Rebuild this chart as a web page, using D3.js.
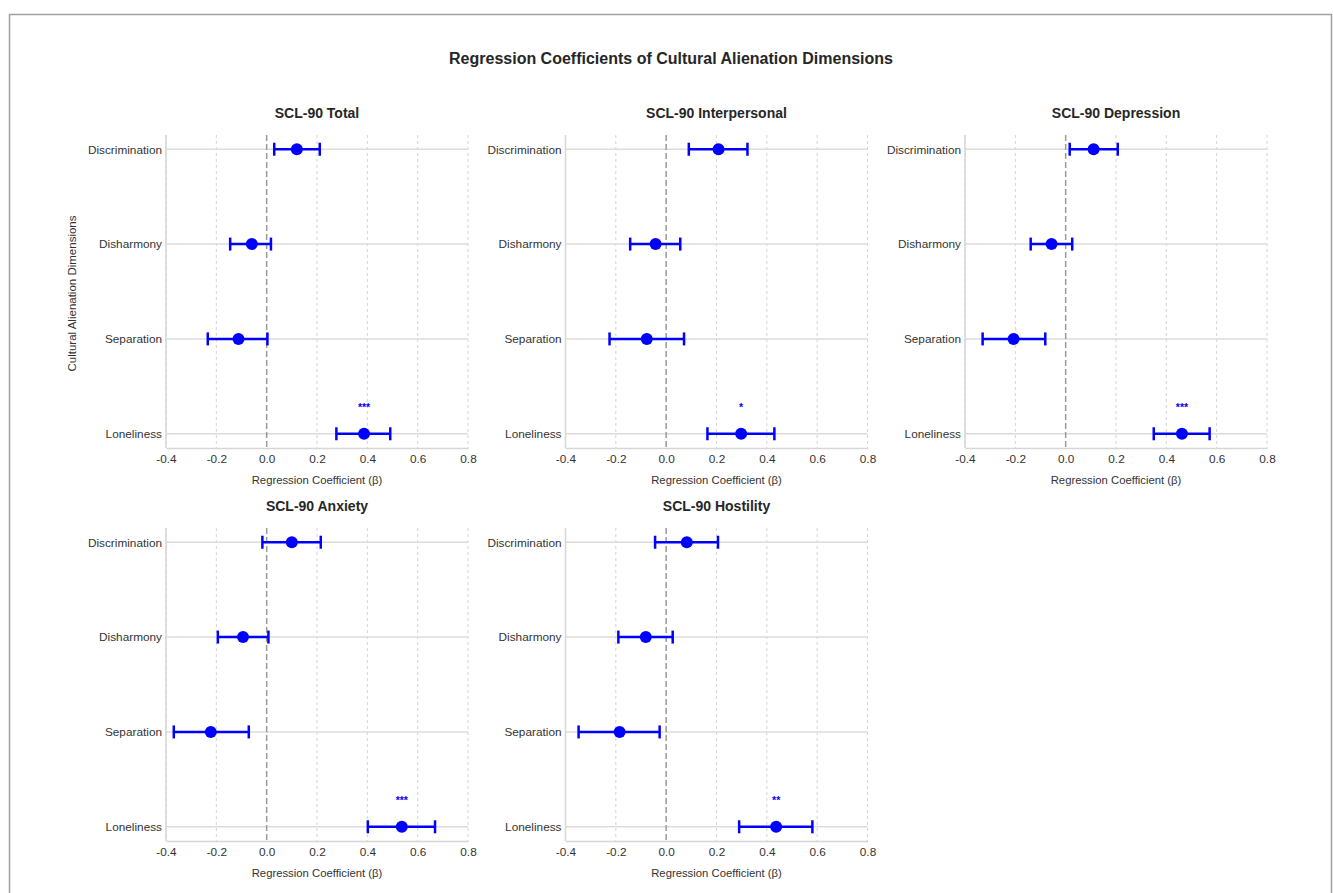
<!DOCTYPE html>
<html><head><meta charset="utf-8">
<script src="https://cdn.jsdelivr.net/npm/d3@7"></script>
<style>body{margin:0;background:#fff;} svg{display:block;font-family:"Liberation Sans",Arial,sans-serif;}</style>
</head><body>
<svg id="chart" width="1333" height="893"></svg>
<script>
const chartTitle = "Regression Coefficients of Cultural Alienation Dimensions";
const categories = ["Discrimination", "Disharmony", "Separation", "Loneliness"];
const panelTitles = ["SCL-90 Total", "SCL-90 Interpersonal", "SCL-90 Depression", "SCL-90 Anxiety", "SCL-90 Hostility"];
const xTicks = [-0.4, -0.2, 0.0, 0.2, 0.4, 0.6, 0.8];
// per panel: coefficient, CI lower, CI upper (order = categories)
const totalBeta  = [0.12, -0.059, -0.112, 0.387];
const totalLow   = [0.030, -0.145, -0.234, 0.277];
const totalHigh  = [0.211, 0.017, 0.003, 0.491];
const interBeta  = [0.208, -0.042, -0.077, 0.298];
const interLow   = [0.090, -0.143, -0.225, 0.164];
const interHigh  = [0.323, 0.056, 0.071, 0.430];
const deprBeta   = [0.111, -0.056, -0.207, 0.462];
const deprLow    = [0.016, -0.139, -0.330, 0.350];
const deprHigh   = [0.207, 0.026, -0.081, 0.572];
const anxBeta    = [0.100, -0.094, -0.222, 0.537];
const anxLow     = [-0.017, -0.194, -0.369, 0.402];
const anxHigh    = [0.215, 0.007, -0.071, 0.669];
const hostBeta   = [0.082, -0.081, -0.185, 0.437];
const hostLow    = [-0.044, -0.190, -0.348, 0.290];
const hostHigh   = [0.206, 0.026, -0.026, 0.581];
const totalSig = ["", "", "", "***"];
const interSig = ["", "", "", "*"];
const deprSig  = ["", "", "", "***"];
const anxSig   = ["", "", "", "***"];
const hostSig  = ["", "", "", "**"];

const panels = [
  {title: panelTitles[0], beta: totalBeta, low: totalLow, high: totalHigh, sig: totalSig},
  {title: panelTitles[1], beta: interBeta, low: interLow, high: interHigh, sig: interSig},
  {title: panelTitles[2], beta: deprBeta,  low: deprLow,  high: deprHigh,  sig: deprSig},
  {title: panelTitles[3], beta: anxBeta,   low: anxLow,   high: anxHigh,   sig: anxSig},
  {title: panelTitles[4], beta: hostBeta,  low: hostLow,  high: hostHigh,  sig: hostSig}
];

const svg = d3.select("#chart");
// frame
svg.append("path").attr("d","M9.5,893 L9.5,14.5 L1331.5,14.5 L1331.5,893")
  .attr("fill","none").attr("stroke","#a0a0a0").attr("stroke-width",1.5);

svg.append("text").attr("x",671).attr("y",64).attr("text-anchor","middle")
  .attr("font-size",16).attr("font-weight","bold").attr("fill","#262626").text(chartTitle);

const colX = [166, 565.5, 965];
const rowY = [135, 528];
const pw = 302, ph = 313;
const blue = "#0000ff";
const fmt = d => d3.format(".1f")(d).replace("\u2212", "-");

panels.forEach((p, i) => {
  const col = i % 3, row = Math.floor(i / 3);
  const g = svg.append("g").attr("transform", `translate(${colX[col]},${rowY[row]})`);
  const x = d3.scaleLinear().domain([-0.4, 0.8]).range([0, pw]);
  const y = d3.scaleLinear().domain([-0.15, 3.15]).range([ph, 0]);
  const yPos = (k) => y(categories.length - 1 - k);

  // vertical dashed grid
  g.selectAll(".vg").data(xTicks.filter(t => t !== 0)).enter().append("line")
    .attr("x1", d => x(d)).attr("x2", d => x(d)).attr("y1", 0).attr("y2", ph)
    .attr("stroke", "#d4d4d4").attr("stroke-width", 1).attr("stroke-dasharray", "3,3");
  // horizontal solid grid
  g.selectAll(".hg").data(categories).enter().append("line")
    .attr("x1", 0).attr("x2", pw).attr("y1", (d, k) => yPos(k)).attr("y2", (d, k) => yPos(k))
    .attr("stroke", "#dcdcdc").attr("stroke-width", 1.5);
  // zero line
  g.append("line").attr("x1", x(0)).attr("x2", x(0)).attr("y1", 0).attr("y2", ph)
    .attr("stroke", "#9a9a9a").attr("stroke-width", 1.5).attr("stroke-dasharray", "6,3");

  // axes
  const xAxis = d3.axisBottom(x).tickValues(xTicks).tickFormat(fmt).tickSize(0).tickPadding(7);
  const xg = g.append("g").attr("transform", `translate(0,${ph})`).call(xAxis);
  xg.select(".domain").attr("stroke", "#d6d6d6").attr("stroke-width", 1.5);
  xg.selectAll("text").attr("font-size", 11.8).attr("fill", "#333").attr("font-family", "Liberation Sans, Arial, sans-serif");

  const yAxis = d3.axisLeft(d3.scalePoint().domain(categories).range([yPos(0), yPos(3)]))
    .tickSize(0).tickPadding(4);
  const yg = g.append("g").call(yAxis);
  yg.select(".domain").remove();
  yg.selectAll("text").attr("font-size", 11.8).attr("fill", "#333").attr("font-family", "Liberation Sans, Arial, sans-serif");
  g.append("line").attr("x1", 0).attr("x2", 0).attr("y1", 0).attr("y2", ph)
    .attr("stroke", "#d6d6d6").attr("stroke-width", 1.5);

  // titles / labels
  g.append("text").attr("x", pw / 2).attr("y", -17).attr("text-anchor", "middle")
    .attr("font-size", 14).attr("font-weight", "bold").attr("fill", "#262626").text(p.title);
  g.append("text").attr("x", pw / 2).attr("y", ph + 36).attr("text-anchor", "middle")
    .attr("font-size", 11.3).attr("fill", "#333").text("Regression Coefficient (β)");
  if (i === 0) {
    g.append("text").attr("transform", `translate(-90,${ph / 2 + 2}) rotate(-90)`).attr("text-anchor", "middle")
      .attr("font-size", 11.5).attr("fill", "#333").text("Cultural Alienation Dimensions");
  }

  // error bars
  const cap = 6.5;
  categories.forEach((c, k) => {
    const yy = yPos(k);
    g.append("line").attr("x1", x(p.low[k])).attr("x2", x(p.high[k])).attr("y1", yy).attr("y2", yy)
      .attr("stroke", blue).attr("stroke-width", 2.5);
    [p.low[k], p.high[k]].forEach(v => {
      g.append("line").attr("x1", x(v)).attr("x2", x(v)).attr("y1", yy - cap).attr("y2", yy + cap)
        .attr("stroke", blue).attr("stroke-width", 2.5);
    });
    g.append("circle").attr("cx", x(p.beta[k])).attr("cy", yy).attr("r", 6).attr("fill", blue);
    if (p.sig[k]) {
      g.append("text").attr("x", x(p.beta[k])).attr("y", yy - 23).attr("text-anchor", "middle")
        .attr("font-size", 10.5).attr("font-weight", "bold").attr("fill", blue).text(p.sig[k]);
    }
  });
});
</script>
</body></html>
